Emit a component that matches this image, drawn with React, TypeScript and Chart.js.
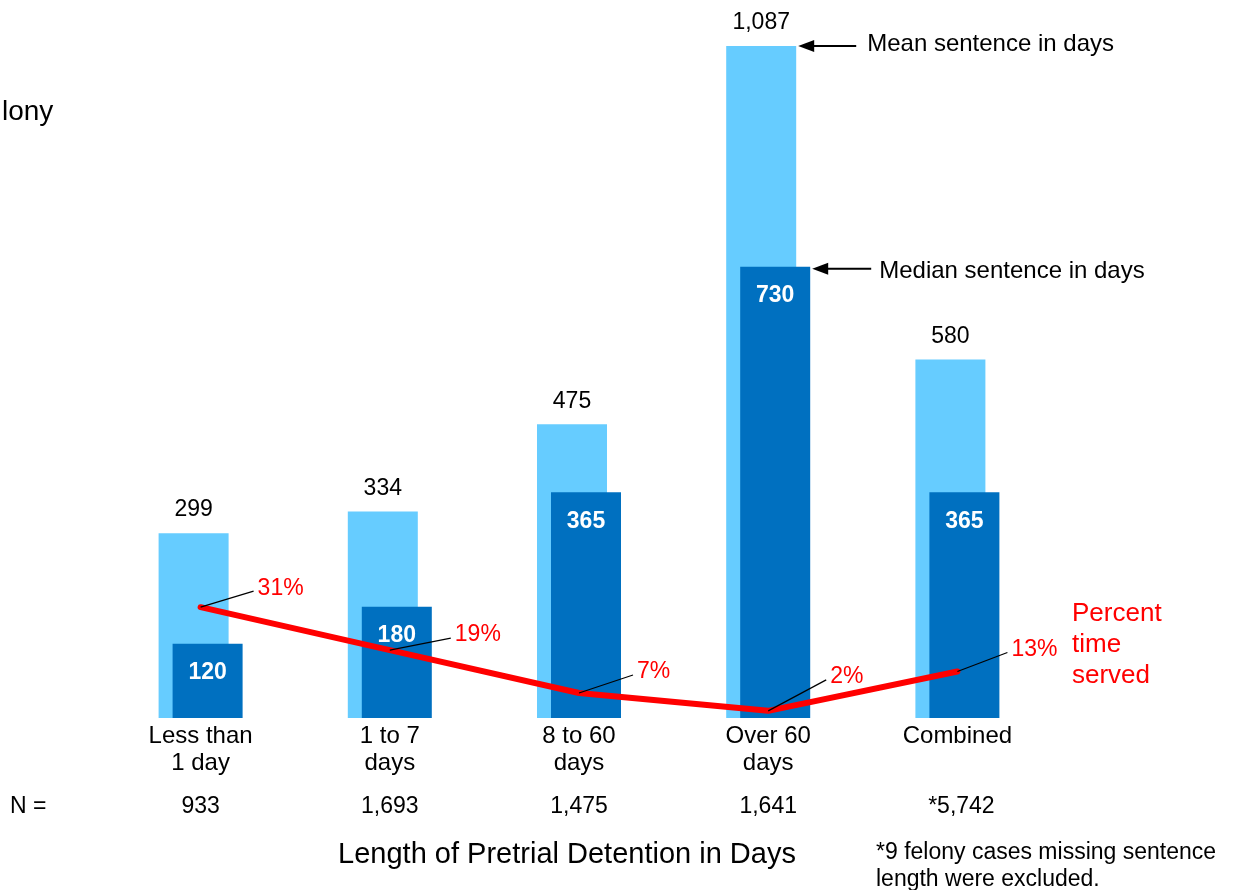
import React, { useEffect, useRef } from 'react';
import { Chart, registerables } from 'chart.js';

Chart.register(...registerables);

const categories: string[][] = [['Less than', '1 day'], ['1 to 7', 'days'], ['8 to 60', 'days'], ['Over 60', 'days'], ['Combined']];
const meanSentence = [299, 334, 475, 1087, 580];
const medianSentence = [120, 180, 365, 730, 365];
const percentServed = [31, 19, 7, 2, 13];
const caseCounts = ['933', '1,693', '1,475', '1,641', '*5,742'];

const FONT = '"Liberation Sans", Arial, Helvetica, sans-serif';
const LIGHT = '#66CCFF';
const DARK = '#0070C0';
const RED = '#FF0000';
const BAR_SHIFT = 7;
// label placement (layout only): offset from category centre / point y
const PCT_OFFSETS: number[][] = [[57, -19], [65, -15], [58, -21], [62, -34], [54, -22]];

function arrow(ctx: CanvasRenderingContext2D, tipX: number, y: number, endX: number) {
  ctx.strokeStyle = '#000';
  ctx.fillStyle = '#000';
  ctx.lineWidth = 2;
  ctx.beginPath();
  ctx.moveTo(tipX + 12, y);
  ctx.lineTo(endX, y);
  ctx.stroke();
  ctx.beginPath();
  ctx.moveTo(tipX, y);
  ctx.lineTo(tipX + 16, y - 6);
  ctx.lineTo(tipX + 16, y + 6);
  ctx.closePath();
  ctx.fill();
}

const overlayPlugin = {
  id: 'overlay',
  afterDatasetsUpdate(chart: any) {
    chart.getDatasetMeta(0).data.forEach((el: any) => { el.x -= BAR_SHIFT; });
    chart.getDatasetMeta(1).data.forEach((el: any) => { el.x += BAR_SHIFT; });
  },
  afterDraw(chart: any) {
    const ctx: CanvasRenderingContext2D = chart.ctx;
    const area = chart.chartArea;
    const xs = chart.scales.x;
    const mean = chart.getDatasetMeta(0).data;
    const med = chart.getDatasetMeta(1).data;
    const line = chart.getDatasetMeta(2).data;
    ctx.save();
    ctx.textBaseline = 'middle';

    // mean labels
    ctx.textAlign = 'center';
    ctx.fillStyle = '#000';
    ctx.font = `23px ${FONT}`;
    mean.forEach((el: any, i: number) => {
      ctx.fillText(meanSentence[i].toLocaleString('en-US'), el.x, el.y - 23);
    });
    // median labels
    ctx.fillStyle = '#fff';
    ctx.font = `bold 23px ${FONT}`;
    med.forEach((el: any, i: number) => {
      ctx.fillText(String(medianSentence[i]), el.x, el.y + 29);
    });

    // percent labels with leaders
    ctx.font = `23px ${FONT}`;
    line.forEach((pt: any, i: number) => {
      const cx = xs.getPixelForValue(i);
      const [dx, dy] = PCT_OFFSETS[i];
      const tx = cx + dx;
      const ty = pt.y + dy;
      ctx.strokeStyle = '#000';
      ctx.lineWidth = 1.2;
      ctx.beginPath();
      ctx.moveTo(pt.x, pt.y);
      ctx.lineTo(tx - 4, ty + 3);
      ctx.stroke();
      ctx.fillStyle = RED;
      ctx.textAlign = 'left';
      ctx.fillText(percentServed[i] + '%', tx, ty);
    });

    // arrows with annotations
    const m = mean[3];
    const mTip = m.x + m.width / 2 + 2;
    arrow(ctx, mTip, m.y, mTip + 58);
    const d = med[3];
    const dTip = d.x + d.width / 2 + 2;
    arrow(ctx, dTip, d.y + 2, dTip + 59);
    ctx.fillStyle = '#000';
    ctx.textAlign = 'left';
    ctx.font = `24px ${FONT}`;
    ctx.fillText('Mean sentence in days', mTip + 69, m.y - 2);
    ctx.fillText('Median sentence in days', dTip + 67, d.y + 5);

    // Percent time served
    ctx.fillStyle = RED;
    ctx.font = `26px ${FONT}`;
    ['Percent', 'time', 'served'].forEach((t, i) => {
      ctx.fillText(t, area.right + 20, area.bottom - 104 + i * 31);
    });

    // N row
    ctx.fillStyle = '#000';
    ctx.font = `23px ${FONT}`;
    ctx.textAlign = 'left';
    ctx.fillText('N =', 10, area.bottom + 89);
    ctx.textAlign = 'center';
    caseCounts.forEach((c, i) => {
      const off = c.startsWith('*') ? 4 : 0;
      ctx.fillText(c, xs.getPixelForValue(i) + off, area.bottom + 89);
    });

    // axis title
    ctx.font = `29px ${FONT}`;
    ctx.fillText('Length of Pretrial Detention in Days', 567, area.bottom + 137);

    // footnote
    ctx.textAlign = 'left';
    ctx.font = `23px ${FONT}`;
    ctx.fillText('*9 felony cases missing sentence', 876, area.bottom + 135);
    ctx.fillText('length were excluded.', 876, area.bottom + 162);

    // side title, cut off by the left edge of the picture
    ctx.font = `28px ${FONT}`;
    const visible = ctx.measureText('lony').width;
    const lStart = 2;
    ctx.save();
    ctx.beginPath();
    ctx.rect(lStart - 1, 0, 200, 200);
    ctx.clip();
    ctx.textAlign = 'right';
    ctx.fillText('Felony', lStart + visible, 112);
    ctx.restore();

    ctx.restore();
  },
};

export default function App() {
  const ref = useRef<HTMLCanvasElement | null>(null);
  useEffect(() => {
    if (!ref.current) return;
    const chart = new Chart(ref.current, {
      type: 'bar',
      data: {
        labels: categories as any,
        datasets: [
          {
            type: 'bar',
            label: 'Mean sentence in days',
            data: meanSentence,
            backgroundColor: LIGHT,
            grouped: false,
            barPercentage: 0.37,
            categoryPercentage: 1,
            order: 3,
            yAxisID: 'y',
          } as any,
          {
            type: 'bar',
            label: 'Median sentence in days',
            data: medianSentence,
            backgroundColor: DARK,
            grouped: false,
            barPercentage: 0.37,
            categoryPercentage: 1,
            order: 2,
            yAxisID: 'y',
          } as any,
          {
            type: 'line',
            label: 'Percent time served',
            data: percentServed,
            borderColor: RED,
            borderWidth: 6,
            borderCapStyle: 'round',
            borderJoinStyle: 'round',
            pointRadius: 0,
            tension: 0,
            order: 1,
            yAxisID: 'y2',
          } as any,
        ],
      },
      options: {
        responsive: false,
        animation: false,
        devicePixelRatio: 1,
        layout: { padding: { left: 106, right: 194, top: 46, bottom: 72 } },
        plugins: {
          legend: { display: false },
          tooltip: { enabled: false },
          title: { display: false },
        },
        scales: {
          x: {
            type: 'category',
            offset: true,
            grid: { display: false, drawTicks: false },
            border: { display: false },
            ticks: {
              color: '#000',
              font: { family: FONT, size: 24, lineHeight: 1.13 },
              padding: 5,
              maxRotation: 0,
              autoSkip: false,
            },
            afterFit: (scale: any) => { scale.height = 100; },
          },
          y: { display: false, min: 0, max: 1087 },
          y2: { display: false, min: 0, max: 188, position: 'right' },
        },
      } as any,
      plugins: [overlayPlugin as any],
    });
    return () => chart.destroy();
  }, []);
  return (
    <div style={{ position: 'fixed', left: 0, top: 0, width: 1246, height: 890, background: '#fff' }}>
      <canvas ref={ref} width={1246} height={890} style={{ display: 'block' }} />
    </div>
  );
}
